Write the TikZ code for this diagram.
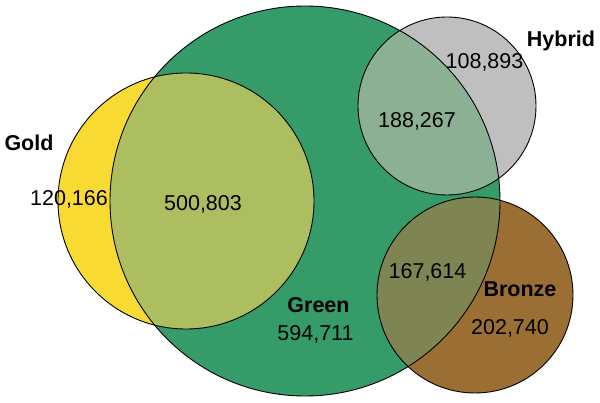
\documentclass[tikz,border=0pt]{standalone}
\usepackage{fontspec}
\setmainfont{Liberation Sans}
\definecolor{greenset}{RGB}{52,155,105}
\definecolor{goldset}{RGB}{249,218,51}
\definecolor{hybridset}{RGB}{191,191,191}
\definecolor{bronzeset}{RGB}{155,111,52}
\definecolor{goldgreen}{RGB}{173,190,96}
\definecolor{hybridgreen}{RGB}{139,176,148}
\definecolor{bronzegreen}{RGB}{126,133,83}
\begin{document}
\begin{tikzpicture}
		[x=1pt,y=-1pt,
		 count/.style={inner sep=0pt,text height=0.716em,text depth=0pt,font=\fontsize{21.5}{24}\selectfont},
		 setname/.style={count,font=\fontsize{21.5}{24}\selectfont\bfseries},
		 rim/.style={draw=black,line width=0.9pt}]
		\useasboundingbox (0,0) rectangle (600,403);
		% sets
		\fill[greenset] (305,201) circle (195);
		\fill[goldset] (186,201) circle (128);
		\fill[hybridset] (447,106) circle (89);
		\fill[bronzeset] (475,295) circle (98);
		% overlaps with green
		\begin{scope}
			\clip (305,201) circle (195);
			\fill[goldgreen] (186,201) circle (128);
			\fill[hybridgreen] (447,106) circle (89);
			\fill[bronzegreen] (475,295) circle (98);
		\end{scope}
		\draw[rim] (305,201) circle (195);
		\draw[rim] (186,201) circle (128);
		\draw[rim] (447,106) circle (89);
		\draw[rim] (475,295) circle (98);
		% labels
		\node[setname,name=gold]at(29,147){Gold};
		\node[setname,name=hybrid]at(561,43){Hybrid};
		\node[setname,name=bronze]at(520,293){Bronze};
		\node[setname,name=green]at(318.5,309){Green};
		\node[count,name=goldonly]at(69,202){120,166};
		\node[count,name=goldgreen]at(203,207){500,803};
		\node[count,name=hybridonly]at(484.5,65){108,893};
		\node[count,name=hybridgreen]at(417,124){188,267};
		\node[count,name=bronzegreen]at(427.5,275){167,614};
		\node[count,name=bronzeonly]at(510,331){202,740};
		\node[count,name=greenonly]at(315.5,337){594,711};
	\end{tikzpicture}
\end{document}
